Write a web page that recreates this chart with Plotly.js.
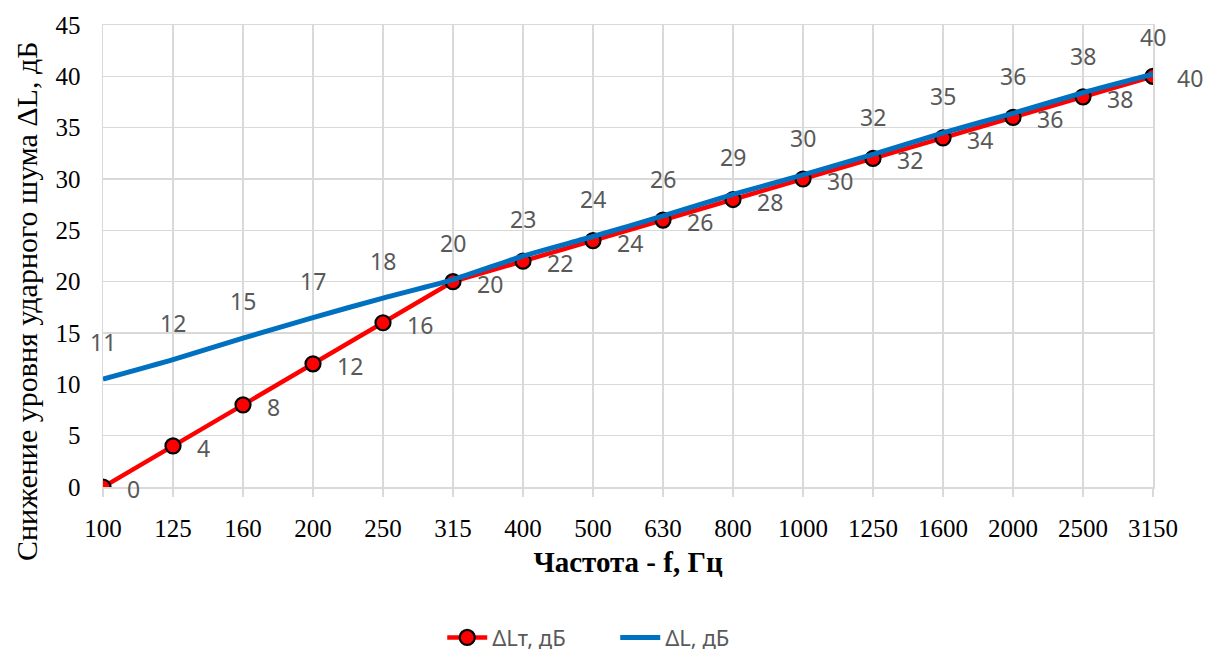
<!DOCTYPE html>
<html>
<head>
<meta charset="utf-8">
<script src="https://cdn.plot.ly/plotly-3.0.1.min.js"></script>
<style>html,body{margin:0;padding:0;background:#fff}#chart{width:1205px;height:652px}</style>
</head>
<body>
<div id="chart"></div>
<script>
// Data
const frequencies = ['100','125','160','200','250','315','400','500','630','800','1000','1250','1600','2000','2500','3150'];
const deltaLt = [0,4,8,12,16,20,22,24,26,28,30,32,34,36,38,40];
const deltaL  = [10.5,12.4,14.5,16.5,18.4,20.2,22.5,24.4,26.4,28.5,30.4,32.4,34.5,36.4,38.4,40.2];
const deltaLLabels = [11,12,15,17,18,20,23,24,26,29,30,32,35,36,38,40];
const yTicks = [0,5,10,15,20,25,30,35,40,45];

const serif = 'Liberation Serif, Times New Roman, serif';
const sans = 'Noto Sans, Open Sans, sans-serif';
const labelColor = '#595959';

const traces = [
  {
    x: frequencies, y: deltaLt, name: 'ΔLт, дБ', type: 'scatter', mode: 'lines+markers',
    line: {color: '#ff0000', width: 4.5},
    marker: {color: '#ff0000', size: 15, line: {color: '#000000', width: 2.2}},
    hoverinfo: 'x+y'
  },
  {
    x: frequencies, y: deltaL, name: 'ΔL, дБ', type: 'scatter', mode: 'lines',
    line: {color: '#0070c0', width: 5, shape: 'spline', smoothing: 0.6},
    hoverinfo: 'x+y'
  }
];

const annotations = [];
frequencies.forEach((f, i) => {
  // category axis: annotation x given as category serial number
  annotations.push({x: i, y: deltaLt[i], text: String(deltaLt[i]), showarrow: false,
    xanchor: 'left', yanchor: 'middle', xshift: 22, yshift: -2,
    font: {family: sans, size: 23, color: labelColor}});
  annotations.push({x: i, y: deltaL[i], text: String(deltaLLabels[i]), showarrow: false,
    xanchor: 'center', yanchor: 'middle', yshift: 37,
    font: {family: sans, size: 23, color: labelColor}});
});
annotations.push({
  xref: 'paper', yref: 'paper', x: -0.0724, y: 0.4026, textangle: -90,
  text: 'Снижение уровня ударного шума ΔL, дБ', showarrow: false,
  xanchor: 'center', yanchor: 'middle',
  font: {family: serif, size: 30, color: '#000000'}
});

const layout = {
  width: 1205, height: 652,
  margin: {l: 103, r: 52, t: 25, b: 165},
  paper_bgcolor: '#ffffff', plot_bgcolor: '#ffffff',
  showlegend: true,
  legend: {orientation: 'h', xref: 'container', yref: 'container',
    x: 0.367, xanchor: 'left', y: 0.022, yanchor: 'middle',
    entrywidth: 118, itemwidth: 40,
    font: {family: sans, size: 22, color: labelColor}},
  xaxis: {
    type: 'category', range: [0, 15], automargin: false,
    showgrid: true, gridcolor: '#d9d9d9', gridwidth: 1.5,
    showline: true, linecolor: '#d9d9d9', linewidth: 1.5, mirror: true,
    ticks: 'outside', ticklen: 8, tickcolor: '#d9d9d9', tickwidth: 1.5,
    ticklabelstandoff: 10,
    tickfont: {family: serif, size: 25, color: '#000000'},
    title: {text: '<b>Частота - f, Гц</b>', standoff: 11,
      font: {family: serif, size: 29, color: '#000000'}},
    zeroline: false, fixedrange: true
  },
  yaxis: {
    range: [0, 45], tickvals: yTicks, ticktext: yTicks.map(String), automargin: false,
    showgrid: true, gridcolor: '#d9d9d9', gridwidth: 1.5,
    showline: true, linecolor: '#d9d9d9', linewidth: 1.5, mirror: true,
    ticks: '', ticklabelstandoff: 16,
    tickfont: {family: serif, size: 25, color: '#000000'},
    zeroline: false, fixedrange: true
  },
  annotations: annotations
};

Plotly.newPlot('chart', traces, layout, {displayModeBar: false, staticPlot: true});
</script>
</body>
</html>
